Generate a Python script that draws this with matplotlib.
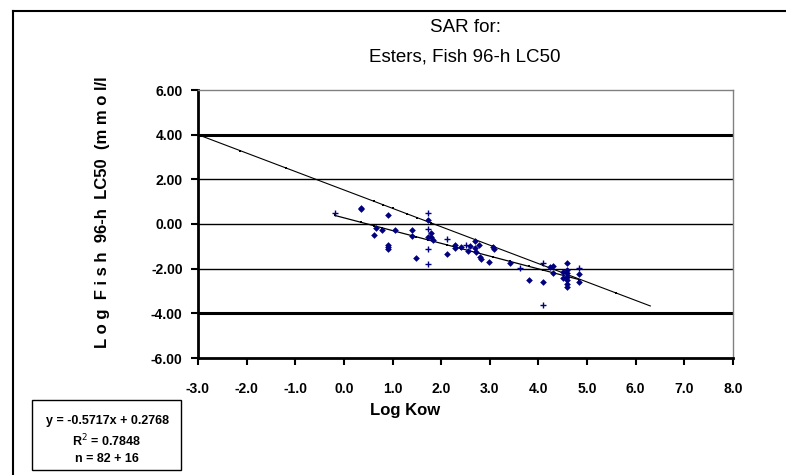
import numpy as np
import matplotlib.pyplot as plt
from matplotlib.lines import Line2D

plt.rcParams['font.family'] = ['Liberation Sans', 'DejaVu Sans']

# measured points, drawn as small filled diamonds
dia_x = [0.35, 0.35, 0.90, 0.61, 0.79, 0.66, 0.90, 0.90, 0.90, 1.05, 1.39, 1.39, 1.49,
         1.72, 1.72, 1.80, 1.80, 1.84, 2.11, 2.29, 2.29, 2.41, 2.55, 2.60, 2.70, 2.70,
         2.72, 2.78, 2.80, 2.82, 2.99, 3.06, 3.08, 3.42, 3.80, 4.09, 4.23, 4.30, 4.30,
         4.51, 4.51, 4.58, 4.58, 4.58, 4.58, 4.58, 4.58, 4.58, 4.84, 4.84]
dia_y = [0.72, 0.65, 0.40, -0.49, -0.27, -0.19, -0.94, -1.02, -1.13, -0.27, -0.27, -0.54, -1.54,
         0.18, -0.60, -0.60, -0.42, -0.72, -1.34, -0.94, -1.09, -1.04, -1.19, -0.97, -0.75, -1.09,
         -1.24, -0.94, -1.46, -1.58, -1.69, -1.01, -1.13, -1.73, -2.51, -2.61, -1.91, -1.87, -2.21,
         -2.13, -2.43, -1.73, -2.06, -2.21, -2.36, -2.51, -2.69, -2.81, -2.24, -2.58]

# points drawn as small plus signs
plus_x = [-0.19, 1.72, 1.72, 1.72, 1.72, 2.11, 3.63, 4.09, 4.09, 4.84, 2.50]
plus_y = [0.48, 0.48, -0.22, -1.13, -1.79, -0.67, -1.99, -1.76, -3.63, -1.96, -0.95]

# regression y = -0.5717x + 0.2768 over the data range
slope, intercept = -0.5717, 0.2768
reg_x = [-0.19, 0.35, 0.61, 0.79, 1.05, 1.39, 1.49, 1.72, 2.11, 2.41, 2.70, 3.06, 3.42, 3.80, 4.09, 4.30, 4.58, 4.84]

# upper reference line, endpoints
upper_x = [-3.0, 6.3]
upper_y = [4.0, -3.67]
upper_mark_x = [-2.14, -1.2, 0.61, 0.81, 1.0, 1.3, 1.5, 1.79, 2.7, 3.06, 4.09, 4.58, 5.6]

xticks = np.arange(-3, 9, 1)
yticks = np.arange(-6, 7, 2)

fig = plt.figure(figsize=(7.86, 4.75), dpi=100)
ax = fig.add_axes([198/786, 1-358/475, 535/786, 268/475])

ax.set_xlim(-3, 8)
ax.set_ylim(-6, 6)

# grid lines
for yv in [2, 0, -2]:
    ax.axhline(yv, color='black', lw=1.0, zorder=1)
for yv in [4, -4]:
    ax.axhline(yv, color='black', lw=2.2, zorder=1)

# upper line
ax.plot(upper_x, upper_y, color='black', lw=0.8, zorder=2)
um = np.interp(upper_mark_x, upper_x, upper_y)
ax.plot(upper_mark_x, um, 's', color='black', ms=1.6, mew=0, zorder=2)

# regression line
ry = slope * np.array(reg_x) + intercept
ax.plot(reg_x, ry, color='black', lw=0.9, zorder=2)
ax.plot(reg_x, ry, 's', color='black', ms=2.0, mew=0, zorder=2)

ax.plot(dia_x, dia_y, 'D', color='#000080', ms=3.4, mew=0, zorder=3)
ax.plot(plus_x, plus_y, '+', color='#000080', ms=4, mew=1.0, zorder=3)

ax.set_xticks(xticks)
ax.set_xticklabels(['%.1f' % v for v in xticks], fontsize=10, fontweight='bold')
ax.set_yticks(yticks)
ax.set_yticklabels(['%.2f' % v for v in yticks], fontsize=10, fontweight='bold')
ax.tick_params(axis='both', direction='out', length=5, width=1.5, color='black')
ax.tick_params(axis='x', pad=12)
ax.tick_params(axis='y', pad=6)

ax.spines['left'].set_linewidth(2)
ax.spines['bottom'].set_linewidth(2)
ax.spines['top'].set_color('#808080')
ax.spines['right'].set_color('#808080')
ax.spines['top'].set_linewidth(1)
ax.spines['right'].set_linewidth(1)

# titles and labels
fig.text(465/786, 1-28/475, 'SAR for:', ha='center', va='center', fontsize=13.5)
fig.text(465/786, 1-57/475, 'Esters, Fish 96-h LC50', ha='center', va='center', fontsize=13.5)
fig.text(103/786, 1-212/475, 'L o g  F i s h  96-h  LC50  (m m o l/l', rotation=90,
         ha='center', va='center', fontsize=12, fontweight='bold')
fig.text(405/786, 1-410/475, 'Log Kow', ha='center', va='center', fontsize=12, fontweight='bold')

# equation box
box = plt.Rectangle((32/786, 1-470/475), 149/786, 70/475, transform=fig.transFigure,
                    fill=False, edgecolor='black', lw=1)
fig.add_artist(box)
fig.text(107/786, 1-421/475, 'y = -0.5717x + 0.2768', ha='center', va='center', fontsize=9, fontweight='bold')
fig.text(107/786, 1-441/475, 'R$^2$ = 0.7848', ha='center', va='center', fontsize=9, fontweight='bold')
fig.text(107/786, 1-459/475, 'n = 82 + 16', ha='center', va='center', fontsize=9, fontweight='bold')

# outer frame (top and left edges)
fig.add_artist(Line2D([13/786, 1], [1-11/475, 1-11/475], transform=fig.transFigure, color='black', lw=1.5))
fig.add_artist(Line2D([13/786, 13/786], [0, 1-11/475], transform=fig.transFigure, color='black', lw=1.5))

fig.savefig('out.png', dpi=100)
